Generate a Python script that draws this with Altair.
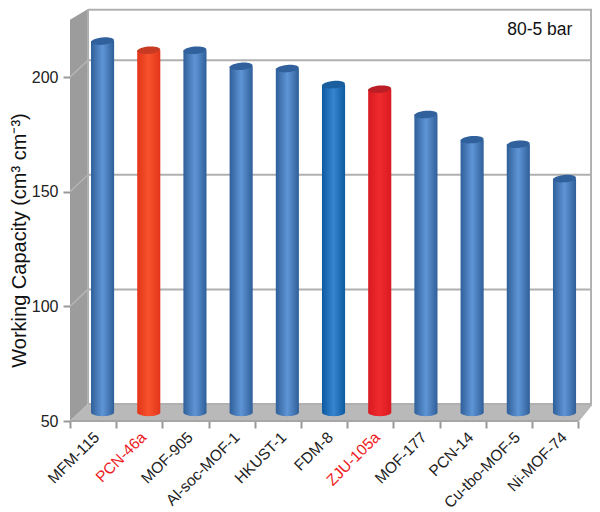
import altair as alt
import pandas as pd

materials = ["MFM-115", "PCN-46a", "MOF-905", "Al-soc-MOF-1", "HKUST-1", "FDM-8",
             "ZJU-105a", "MOF-177", "PCN-14", "Cu-tbo-MOF-5", "Ni-MOF-74"]
capacity = [212, 208, 208, 201, 200, 193, 191, 180, 169, 167, 152]
groups = ["blue", "orange", "blue", "blue", "blue", "deep", "red", "blue", "blue", "blue", "blue"]
label_colors = ["#222222", "#ee1c25", "#222222", "#222222", "#222222", "#222222",
                "#ee1c25", "#222222", "#222222", "#222222", "#222222"]
y_ticks = [50, 100, 150, 200]

# chart-space constants (data units)
DEPTH_X = 0.39      # categories
DEPTH_Y = 7.4       # capacity units
Y_BOTTOM, Y_TOP = 50, 229.7
X_MAX = 11.30
FRONT_TOP = 225
HALF = 0.25

palette = {
    "blue": ("#2f5f99", "#5f95d6", "#30619c"),
    "orange": ("#e2351a", "#f6532c", "#c93a22"),
    "deep": ("#0d5a9f", "#3585d0", "#1b5e9e"),
    "red": ("#d81a22", "#f02a2c", "#bb1f25"),
}

xs = alt.Scale(domain=[0, X_MAX], nice=False, zero=False)
ys = alt.Scale(domain=[Y_BOTTOM, Y_TOP], nice=False, zero=False)
x_axis = alt.Axis(values=list(range(12)), labels=False, domain=False, grid=False,
                  tickColor="#999999", tickWidth=2, tickSize=7)
y_axis = alt.Axis(values=y_ticks, format="d", domain=False, grid=False,
                  tickColor="#999999", tickWidth=2, tickSize=7, labelFontSize=16,
                  labelFont="Liberation Sans", labelColor="#222222", labelPadding=5,
                  title="Working Capacity (cm³ cm⁻³)", titleFont="Liberation Sans",
                  titleFontSize=20, titleFontWeight="normal", titleColor="#111111",
                  titleX=-41, titleY=231)
X = alt.X("x:Q", scale=xs, title=None, axis=x_axis)
Y = alt.Y("y:Q", scale=ys, axis=y_axis)

layers = []

# left wall
wall = pd.DataFrame({"x": [0, DEPTH_X], "y": [FRONT_TOP, Y_TOP], "y2": [50, 50 + DEPTH_Y]})
layers.append(alt.Chart(wall).mark_area(color="#9c9c9c", opacity=1).encode(
    x=X, y=Y, y2="y2:Q"))

# floor
floor = pd.DataFrame({"y": [50, 50 + DEPTH_Y], "x": [0, DEPTH_X], "x2": [11, X_MAX]})
layers.append(alt.Chart(floor).mark_area(color="#b9b9b9", opacity=1, orient="horizontal").encode(
    y=Y, x=X, x2="x2:Q"))

# back grid lines and frame
grid = pd.DataFrame({
    "x": [DEPTH_X] * 4 + [DEPTH_X, X_MAX - 0.02, DEPTH_X],
    "x2": [X_MAX] * 4 + [X_MAX, X_MAX - 0.02, DEPTH_X],
    "y": [v + DEPTH_Y for v in y_ticks] + [Y_TOP - 0.3, 50 + DEPTH_Y, 50 + DEPTH_Y],
    "y2": [v + DEPTH_Y for v in y_ticks] + [Y_TOP - 0.3, Y_TOP, Y_TOP],
})
layers.append(alt.Chart(grid).mark_rule(color="#b0b0b0", strokeWidth=2).encode(
    x=X, x2="x2:Q", y=Y, y2="y2:Q"))

# diagonal lines on the left wall and floor
diag = pd.DataFrame({
    "x": [0] * 3 + [11], "x2": [DEPTH_X] * 3 + [X_MAX],
    "y": [100, 150, 200, 50], "y2": [100 + DEPTH_Y, 150 + DEPTH_Y, 200 + DEPTH_Y, 50 + DEPTH_Y],
})
layers.append(alt.Chart(diag).mark_rule(color="#b4b4b4", strokeWidth=1.5).encode(
    x=X, x2="x2:Q", y=Y, y2="y2:Q"))

# floor front edge
edge = pd.DataFrame({"x": [0], "x2": [11], "y": [50]})
layers.append(alt.Chart(edge).mark_rule(color="#a6a6a6", strokeWidth=2).encode(
    x=X, x2="x2:Q", y=Y))

ELLIPSE = "M-1,0A1,0.32,0,1,1,1,0A1,0.32,0,1,1,-1,0Z"

rows = pd.DataFrame({"name": materials, "v": capacity, "g": groups})
rows["cx"] = [i + 0.5 + DEPTH_X / 2 + 0.01 for i in range(len(rows))]
base_y = 50 + DEPTH_Y / 2

for g, (edge_c, mid_c, top_c) in palette.items():
    d = rows[rows.g == g]
    grad = alt.Gradient(gradient="linear", x1=0, y1=0, x2=1, y2=0, stops=[
        alt.GradientStop(offset=0, color=edge_c),
        alt.GradientStop(offset=0.5, color=mid_c),
        alt.GradientStop(offset=1, color=edge_c),
    ])
    body = pd.DataFrame({"x": d.cx - HALF, "x2": d.cx + HALF,
                         "y": d.v + DEPTH_Y / 2, "y2": base_y})
    layers.append(alt.Chart(body).mark_rect(color=grad).encode(
        x=X, x2="x2:Q", y=Y, y2="y2:Q"))
    bottom = pd.DataFrame({"x": d.cx, "y": base_y})
    layers.append(alt.Chart(bottom).mark_point(
        shape=ELLIPSE, filled=True, size=529, fill=grad, opacity=1, strokeWidth=0).encode(
        x=X, y=Y))
    top = pd.DataFrame({"x": d.cx, "y": d.v + DEPTH_Y / 2})
    layers.append(alt.Chart(top).mark_point(
        shape=ELLIPSE, filled=True, size=529, fill=top_c, opacity=1, strokeWidth=0, angle=355).encode(
        x=X, y=Y))

# category labels
lab = pd.DataFrame({"x": [i * 1.012 + 0.58 for i in range(len(materials))], "y": [44] * len(materials),
                    "t": materials, "c": label_colors})
layers.append(alt.Chart(lab).mark_text(angle=315, align="right", baseline="middle",
                                       font="Liberation Sans", fontSize=15.5).encode(
    x=X, y=Y, text="t:N", color=alt.Color("c:N", scale=None)))

# annotation
note = pd.DataFrame({"x": [10.17], "y": [220.5], "t": ["80-5 bar"]})
layers.append(alt.Chart(note).mark_text(font="Liberation Sans", fontSize=17.5, color="#111111",
                                        align="center", baseline="middle").encode(
    x=X, y=Y, text="t:N"))

chart = alt.layer(*layers).properties(
    width=522, height=412,
    autosize=alt.AutoSizeParams(type="none"),
    padding={"left": 62, "top": 1, "right": 0, "bottom": 91},
    background="white",
).configure_view(stroke=None)

chart.save("out.html", embed_options={"renderer": "svg", "actions": False})
